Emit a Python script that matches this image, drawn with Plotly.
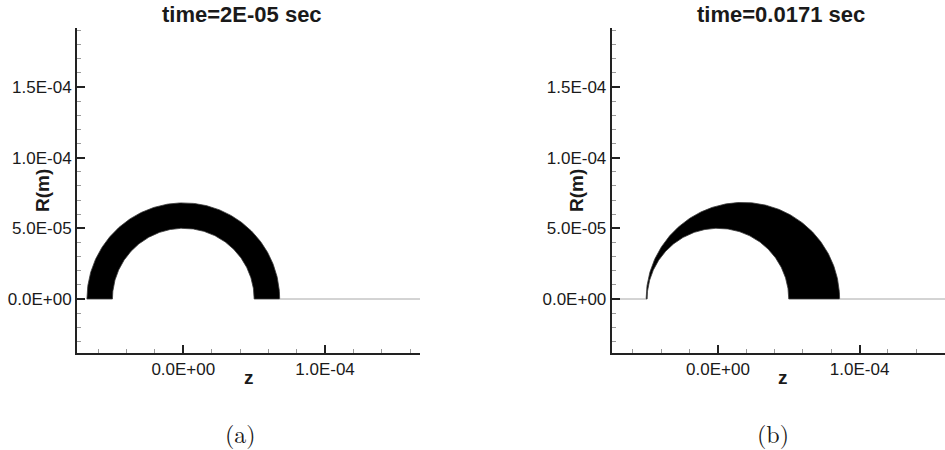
import numpy as np
import plotly.graph_objects as go

# Liquid shell cross-section (axisymmetric, upper half) at two instants
panel_titles = ["time=2E-05 sec", "time=0.0171 sec"]
panel_captions = ["(a)", "(b)"]

inner_center_z = [0.0, 0.0]        # m
inner_radius = [5.0e-5, 5.0e-5]    # m
outer_center_z = [0.0, 1.76e-5]    # m
outer_radius = [6.8e-5, 6.83e-5]   # m
# whether the symmetry axis line is drawn on the upstream side of the shell
axis_line_upstream = [False, True]

# axis ranges
x_ranges = [[-7.5e-5, 1.67e-4], [-7.5e-5, 1.603e-4]]
y_range = [-3.82e-5, 1.917e-4]

x_tick_vals = [0.0, 1.0e-4]
x_tick_text = ["0.0E+00", "1.0E-04"]
y_tick_vals = [0.0, 5.0e-5, 1.0e-4, 1.5e-4]
y_tick_text = ["0.0E+00", "5.0E-05", "1.0E-04", "1.5E-04"]

W, H = 945, 450
x_domains = [[77 / W, 420 / W], [611.7 / W, 1.0]]
y_domain = [(H - 353) / H, (H - 28) / H]

title_x_px = [242, 781]
ylabel_x_px = [43, 577]
zlabel_x_px = [249, 783]
caption_x_px = [240, 773]

TEXT = "#1a1a1a"
SANS = "Liberation Sans, Arial, Helvetica, sans-serif"
SERIF = "Latin Modern Roman, CMU Serif, Liberation Serif, Times New Roman, serif"

fig = go.Figure()

theta = np.linspace(0, np.pi, 241)
for i in range(2):
    xa = "x" if i == 0 else "x2"
    ya = "y" if i == 0 else "y2"
    # shell outline: outer arc left->right over the top, inner arc back
    oz = outer_center_z[i] + outer_radius[i] * np.cos(theta[::-1])
    orr = outer_radius[i] * np.sin(theta[::-1])
    iz = inner_center_z[i] + inner_radius[i] * np.cos(theta)
    irr = inner_radius[i] * np.sin(theta)
    fig.add_trace(go.Scatter(
        x=np.concatenate([oz, iz, oz[:1]]),
        y=np.concatenate([orr, irr, orr[:1]]),
        mode="lines", fill="toself", fillcolor="black",
        line=dict(color="#3a3a3a", width=0.8),
        xaxis=xa, yaxis=ya, showlegend=False, hoverinfo="skip",
    ))
    # symmetry axis (R = 0) outside the shell
    z_lo, z_hi = x_ranges[i]
    segs = [(outer_center_z[i] + outer_radius[i], z_hi)]
    if axis_line_upstream[i]:
        segs.insert(0, (z_lo, outer_center_z[i] - outer_radius[i]))
    for a, b in segs:
        fig.add_trace(go.Scatter(
            x=[a, b], y=[0, 0], mode="lines",
            line=dict(color="#a8a8a8", width=1),
            xaxis=xa, yaxis=ya, showlegend=False, hoverinfo="skip",
        ))

axis_common = dict(
    showline=True, linecolor="#222222", linewidth=2,
    ticks="inside", ticklen=8, tickwidth=1.5, tickcolor="#222222",
    showgrid=False, zeroline=False, mirror=False,
    tickfont=dict(family=SANS, size=17, color=TEXT),
    tickmode="array",
)

layout = dict(
    width=W, height=H,
    margin=dict(l=0, r=0, t=0, b=0),
    paper_bgcolor="white", plot_bgcolor="white",
    showlegend=False,
)
for i in range(2):
    sx = "" if i == 0 else "2"
    layout["xaxis" + sx] = dict(
        axis_common, domain=x_domains[i], range=x_ranges[i],
        anchor="y" + sx, tickvals=x_tick_vals, ticktext=x_tick_text,
        minor=dict(ticks="inside", ticklen=4, tickwidth=1, tickcolor="#9a9a9a",
                   tickmode="linear", tick0=0, dtick=2e-5, showgrid=False),
    )
    layout["yaxis" + sx] = dict(
        axis_common, domain=y_domain, range=y_range,
        anchor="x" + sx, tickvals=y_tick_vals, ticktext=y_tick_text,
        minor=dict(ticks="inside", ticklen=4, tickwidth=1, tickcolor="#9a9a9a",
                   tickmode="linear", tick0=0, dtick=1e-5, showgrid=False),
    )
fig.update_layout(**layout)

for i in range(2):
    fig.add_annotation(
        text="<b>%s</b>" % panel_titles[i], xref="paper", yref="paper",
        x=title_x_px[i] / W, y=1 - 15 / H, xanchor="center", yanchor="middle",
        showarrow=False, font=dict(family=SANS, size=22, color=TEXT),
    )
    fig.add_annotation(
        text="<b>R(m)</b>", xref="paper", yref="paper", textangle=-90,
        x=ylabel_x_px[i] / W, y=1 - 191 / H, xanchor="center", yanchor="middle",
        showarrow=False, font=dict(family=SANS, size=19, color=TEXT),
    )
    fig.add_annotation(
        text="<b>z</b>", xref="paper", yref="paper",
        x=zlabel_x_px[i] / W, y=1 - 377 / H, xanchor="center", yanchor="middle",
        showarrow=False, font=dict(family=SANS, size=19, color=TEXT),
    )
    fig.add_annotation(
        text=panel_captions[i], xref="paper", yref="paper",
        x=caption_x_px[i] / W, y=1 - 433 / H, xanchor="center", yanchor="middle",
        showarrow=False, font=dict(family=SERIF, size=24, color=TEXT),
    )

fig.write_html("out.html")
